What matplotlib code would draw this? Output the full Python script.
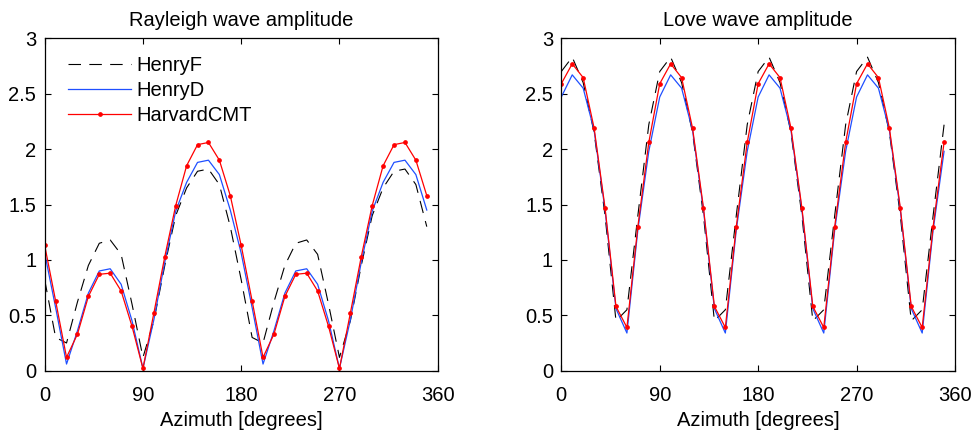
import numpy as np
import matplotlib
matplotlib.use("Agg")
import matplotlib.pyplot as plt

plt.rcParams['font.family'] = ['Liberation Sans', 'DejaVu Sans']
plt.rcParams['lines.scale_dashes'] = False

azimuth = np.arange(0, 360, 10)

ray_henryF_half = [0.82, 0.30, 0.25, 0.62, 0.95, 1.15, 1.18, 1.05, 0.60,
                   0.12, 0.45, 0.95, 1.40, 1.65, 1.80, 1.82, 1.68, 1.30]
ray_henryD_half = [1.06, 0.57, 0.06, 0.36, 0.70, 0.90, 0.92, 0.78, 0.45,
                   0.02, 0.46, 0.98, 1.44, 1.70, 1.88, 1.90, 1.77, 1.45]
ray_harvard_half = [1.13, 0.63, 0.12, 0.33, 0.67, 0.87, 0.88, 0.72, 0.40,
                    0.02, 0.52, 1.03, 1.49, 1.85, 2.04, 2.06, 1.90, 1.58]
ray_henryF = ray_henryF_half + ray_henryF_half
ray_henryD = ray_henryD_half + ray_henryD_half
ray_harvard = ray_harvard_half + ray_harvard_half

love_henryF_q = [2.70, 2.83, 2.60, 2.15, 1.40, 0.45, 0.55, 1.40, 2.22]
love_henryD_q = [2.47, 2.67, 2.55, 2.17, 1.45, 0.56, 0.34, 1.27, 1.98]
love_harvard_q = [2.59, 2.77, 2.645, 2.19, 1.47, 0.58, 0.39, 1.30, 2.06]
love_henryF = love_henryF_q * 4
love_henryD = love_henryD_q * 4
love_harvard = love_harvard_q * 4

titles = ["Rayleigh wave amplitude", "Love wave amplitude"]
xticks = [0, 90, 180, 270, 360]
yticks = [0, 0.5, 1, 1.5, 2, 2.5, 3]
ytick_labels = ["0", "0.5", "1", "1.5", "2", "2.5", "3"]
labels = ["HenryF", "HenryD", "HarvardCMT"]

BLUE = '#1f4fff'
RED = '#ff0000'
FS = 14.5

fig = plt.figure(figsize=(9.72, 4.34), dpi=100)
ax1 = fig.add_axes([44.7/972, (434-370.7)/434, 393/972, 332.4/434])
ax2 = fig.add_axes([561.3/972, (434-370.7)/434, 393.7/972, 332.4/434])

datasets = [(ray_henryF, ray_henryD, ray_harvard), (love_henryF, love_henryD, love_harvard)]

for ax, title, (f, d, h) in zip([ax1, ax2], titles, datasets):
    ax.plot(azimuth, f, color='k', lw=0.8, dashes=(9, 6), label=labels[0])
    ax.plot(azimuth, d, color=BLUE, lw=0.9, label=labels[1])
    ax.plot(azimuth, h, color=RED, lw=0.9, marker='o', ms=2.4, label=labels[2])
    ax.set_xlim(0, 360)
    ax.set_ylim(0, 3)
    ax.set_xticks(xticks)
    ax.set_yticks(yticks)
    ax.set_yticklabels(ytick_labels)
    ax.tick_params(direction='in', top=True, right=True, labelsize=FS,
                   length=4, width=0.8)
    ax.tick_params(axis='x', pad=11)
    ax.tick_params(axis='y', pad=6)
    for s in ax.spines.values():
        s.set_linewidth(0.9)
    ax.set_title(title, fontsize=FS, pad=9)
    ax.set_xlabel("Azimuth [degrees]", fontsize=FS, labelpad=4)

leg = ax1.legend(loc='upper left', bbox_to_anchor=(0.04, 0.97), frameon=False,
                 fontsize=FS, handlelength=3.1, handletextpad=0.28,
                 labelspacing=0.3, borderaxespad=0)

fig.savefig("out.png", dpi=100)
